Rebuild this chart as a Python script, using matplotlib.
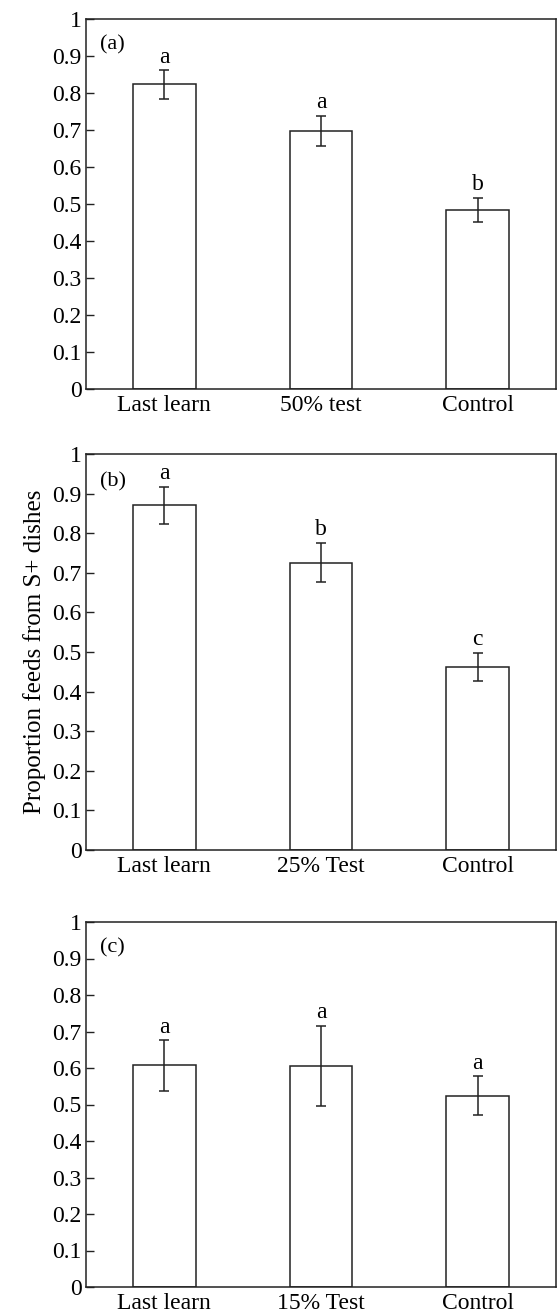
import matplotlib
matplotlib.use("Agg")
import matplotlib.pyplot as plt
import numpy as np

plt.rcParams['font.family'] = ['Liberation Serif', 'DejaVu Serif']

categories_a = ["Last learn", "50% test", "Control"]
means_a = [0.823, 0.697, 0.484]
errors_a = [0.038, 0.041, 0.033]
letters_a = ["a", "a", "b"]

categories_b = ["Last learn", "25% Test", "Control"]
means_b = [0.870, 0.726, 0.462]
errors_b = [0.047, 0.050, 0.036]
letters_b = ["a", "b", "c"]

categories_c = ["Last learn", "15% Test", "Control"]
means_c = [0.607, 0.606, 0.524]
errors_c = [0.069, 0.109, 0.053]
letters_c = ["a", "a", "a"]

panel_labels = ["(a)", "(b)", "(c)"]
yticks = [0, 0.1, 0.2, 0.3, 0.4, 0.5, 0.6, 0.7, 0.8, 0.9, 1]
ytick_labels = ["0", "0.1", "0.2", "0.3", "0.4", "0.5", "0.6", "0.7", "0.8", "0.9", "1"]
ylabel = "Proportion feeds from S+ dishes"

W, H = 557, 1314
fig = plt.figure(figsize=(W / 100, H / 100), dpi=100)

# pixel boxes: (left, top, right, bottom)
boxes = [(86, 19, 556, 389), (86, 454, 556, 850), (86, 922, 556, 1287)]
datasets = [
    (categories_a, means_a, errors_a, letters_a),
    (categories_b, means_b, errors_b, letters_b),
    (categories_c, means_c, errors_c, letters_c),
]
fs = 17
col = "#222222"
for i, (box, (cats, means, errs, lets)) in enumerate(zip(boxes, datasets)):
    l, t, r, b = box
    ax = fig.add_axes([l / W, 1 - b / H, (r - l) / W, (b - t) / H])
    x = np.arange(len(cats))
    ax.bar(x, means, width=0.4, color="white", edgecolor=col, linewidth=1.1,
           yerr=errs, error_kw=dict(ecolor=col, elinewidth=1.1, capsize=3.7, capthick=1.1))
    for xi, m, e, lt in zip(x, means, errs, lets):
        ax.annotate(lt, xy=(xi, m + e), xytext=(0, 5.5), textcoords="offset points",
                    ha="center", va="baseline", fontsize=fs, color="black")
    ax.set_xlim(-0.5, 2.5)
    ax.set_ylim(0, 1)
    ax.set_yticks(yticks)
    ax.set_yticklabels(ytick_labels)
    ax.set_xticks(x)
    ax.set_xticklabels(cats)
    ax.tick_params(axis="y", direction="in", length=5.5, width=1.0, color=col,
                   labelsize=fs, pad=3)
    ax.tick_params(axis="x", length=0, labelsize=fs, pad=4)
    for s in ax.spines.values():
        s.set_color(col)
        s.set_linewidth(1.1)
    ax.text(0.03, 0.93, panel_labels[i], transform=ax.transAxes, ha="left", va="center",
            fontsize=fs - 1)
    if i == 1:
        ax.set_ylabel(ylabel, fontsize=18, labelpad=5)

fig.savefig("out.png", dpi=100)
